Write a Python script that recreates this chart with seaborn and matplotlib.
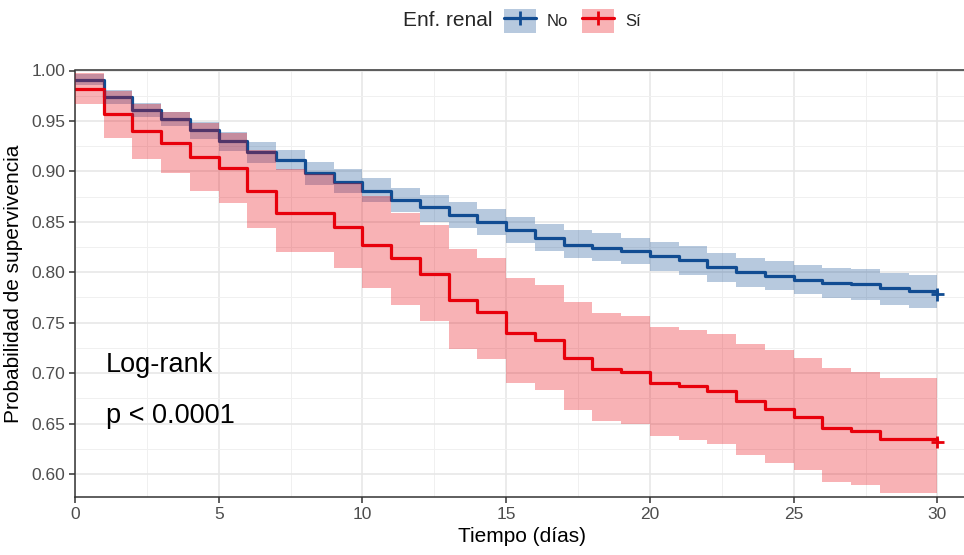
import numpy as np
import pandas as pd
import matplotlib
matplotlib.use("Agg")
import matplotlib.pyplot as plt
import seaborn as sns
from matplotlib.patches import Patch
from matplotlib.lines import Line2D
from matplotlib.legend_handler import HandlerTuple

# Kaplan-Meier estimates per day (value holds from day d to d+1)
dias = list(range(31))
grupos = ["No", "Sí"]

surv_no = [0.991, 0.974, 0.961, 0.952, 0.941, 0.930, 0.919, 0.911, 0.898, 0.889,
           0.881, 0.872, 0.865, 0.857, 0.850, 0.842, 0.834, 0.827, 0.824, 0.821,
           0.816, 0.812, 0.805, 0.800, 0.796, 0.792, 0.789, 0.788, 0.784, 0.781, 0.778]
lower_no = [0.986, 0.967, 0.954, 0.945, 0.932, 0.920, 0.908, 0.901, 0.886, 0.879,
            0.870, 0.860, 0.850, 0.844, 0.837, 0.829, 0.821, 0.814, 0.811, 0.808,
            0.801, 0.797, 0.790, 0.785, 0.782, 0.778, 0.774, 0.772, 0.768, 0.765, 0.765]
upper_no = [0.997, 0.981, 0.968, 0.959, 0.949, 0.939, 0.929, 0.921, 0.909, 0.902,
            0.893, 0.884, 0.877, 0.870, 0.863, 0.855, 0.848, 0.842, 0.839, 0.834,
            0.830, 0.826, 0.819, 0.814, 0.811, 0.807, 0.804, 0.803, 0.799, 0.797, 0.797]

surv_si = [0.982, 0.957, 0.940, 0.928, 0.914, 0.903, 0.881, 0.859, 0.859, 0.845,
           0.827, 0.814, 0.798, 0.772, 0.761, 0.740, 0.733, 0.715, 0.704, 0.701,
           0.690, 0.687, 0.682, 0.672, 0.664, 0.657, 0.646, 0.643, 0.635, 0.635, 0.632]
lower_si = [0.967, 0.933, 0.912, 0.898, 0.881, 0.869, 0.844, 0.820, 0.820, 0.804,
            0.784, 0.768, 0.752, 0.724, 0.714, 0.690, 0.683, 0.663, 0.653, 0.650,
            0.638, 0.634, 0.630, 0.619, 0.611, 0.604, 0.592, 0.589, 0.581, 0.581, 0.581]
upper_si = [0.998, 0.980, 0.967, 0.959, 0.948, 0.938, 0.921, 0.902, 0.897, 0.888,
            0.876, 0.859, 0.847, 0.823, 0.814, 0.794, 0.787, 0.771, 0.760, 0.757,
            0.746, 0.743, 0.739, 0.729, 0.723, 0.715, 0.705, 0.701, 0.695, 0.695, 0.695]

y_ticks = [0.60, 0.65, 0.70, 0.75, 0.80, 0.85, 0.90, 0.95, 1.00]
x_ticks = [0, 5, 10, 15, 20, 25, 30]

colores = {"No": "#114C92", "Sí": "#E8000B"}

df = pd.DataFrame({
    "tiempo": dias * 2,
    "surv": surv_no + surv_si,
    "lower": lower_no + lower_si,
    "upper": upper_no + upper_si,
    "grupo": ["No"] * len(dias) + ["Sí"] * len(dias),
})

sns.set_theme(style="whitegrid")
plt.rcParams["font.family"] = ["Liberation Sans", "DejaVu Sans"]

W, H = 964, 555
fig = plt.figure(figsize=(W / 100, H / 100), dpi=100)
ax = fig.add_axes([75 / W, 1 - 497 / H, (969 - 75) / W, (497 - 70.5) / H])

# survival step curves
sns.lineplot(data=df, x="tiempo", y="surv", hue="grupo", palette=colores,
             estimator=None, drawstyle="steps-post", linewidth=2.3,
             legend=False, ax=ax, zorder=2)

# confidence bands drawn over the curves
for g in grupos:
    sub = df[df["grupo"] == g]
    ax.fill_between(sub["tiempo"], sub["lower"], sub["upper"], step="post",
                    color=colores[g], alpha=0.3, linewidth=0, zorder=3)

# censoring marks at end of follow-up
fin = df[df["tiempo"] == df["tiempo"].max()]
sns.scatterplot(data=fin, x="tiempo", y="surv", hue="grupo", palette=colores,
                marker="+", s=80, linewidth=2, legend=False, ax=ax, zorder=5)

ax.set_xticks(x_ticks)
ax.set_xticks([x + 2.5 for x in x_ticks[:-1]], minor=True)
ax.set_yticks(y_ticks)
ax.set_yticklabels([f"{v:.2f}" for v in y_ticks])
ax.set_yticks([v + 0.025 for v in y_ticks[:-1]], minor=True)
ax.set_xlim(0, 31.1)
ax.set_ylim(0.5772, 1.0)

ax.grid(which="major", color="#E6E6E6", linewidth=1.1)
ax.grid(which="minor", color="#F0F0F0", linewidth=0.7)
ax.set_axisbelow(True)

for side in ["left", "bottom", "top"]:
    ax.spines[side].set_visible(True)
    ax.spines[side].set_color("#333333")
    ax.spines[side].set_linewidth(1.1)
ax.spines["right"].set_visible(False)

ax.tick_params(which="major", direction="out", length=4, width=1.1,
               color="#333333", labelsize=12.5, labelcolor="#4D4D4D", pad=3,
               left=True, bottom=True)
ax.tick_params(which="minor", length=0)

ax.set_xlabel("Tiempo (días)", fontsize=15, color="black", labelpad=4)
ax.set_ylabel("Probabilidad de supervivencia", fontsize=15, color="black", labelpad=6)

ax.text(1.08, 0.7013, "Log-rank", fontsize=19.5, va="baseline", ha="left", color="black")
ax.text(1.08, 0.651, "p < 0.0001", fontsize=19.5, va="baseline", ha="left", color="black")

# legend across the top
fig.text(493 / W, 1 - 21 / H, "Enf. renal", ha="right", va="center", fontsize=15)
handles = []
for g in grupos:
    patch = Patch(facecolor=colores[g], alpha=0.3, edgecolor="none")
    line = Line2D([], [], color=colores[g], linewidth=2.3, marker="+",
                  markersize=10, markeredgewidth=2)
    handles.append((patch, line))
fig.legend(handles=handles, labels=grupos, ncol=2,
           handler_map={tuple: HandlerTuple(ndivide=1, pad=0)},
           loc="center left", bbox_to_anchor=(504 / W, 1 - 21 / H),
           frameon=False, fontsize=12, handlelength=1.92, handleheight=1.8,
           handletextpad=0.66, columnspacing=0.84, borderpad=0, borderaxespad=0,
           numpoints=1)

fig.savefig("out.png", dpi=100)
